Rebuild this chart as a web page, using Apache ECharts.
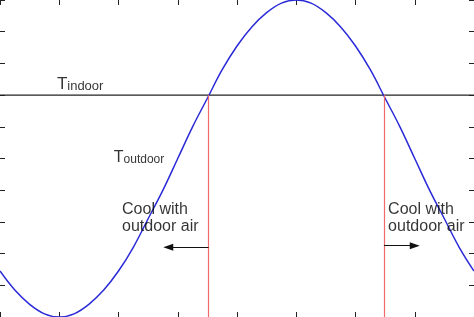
<!DOCTYPE html>
<html><head><meta charset="utf-8">
<script src="https://cdn.jsdelivr.net/npm/echarts@6/dist/echarts.min.js"></script>
<style>html,body{margin:0;padding:0;background:#fff}#c{width:474px;height:317px}</style>
</head><body><div id="c"></div>
<script>
const curveX = [0,0.25,0.5,0.75,1,1.25,1.5,1.75,2,2.25,2.5,2.75,3,3.25,3.5,3.75,4,4.25,4.5,4.75,5,5.25,5.5,5.75,6,6.25,6.5,6.75,7,7.25,7.5,7.75,8];
const curveY = [-0.71,-0.83,-0.92,-0.98,-1,-0.98,-0.92,-0.83,-0.71,-0.56,-0.38,-0.20,0,0.20,0.38,0.56,0.71,0.83,0.92,0.98,1,0.98,0.92,0.83,0.71,0.56,0.38,0.20,0,-0.20,-0.38,-0.56,-0.71];
const indoorLevel = 0.4;
const crossingX = [3.52, 6.48];
const arrowLeft = [[3.52, -0.56], [2.84, -0.56]];
const arrowRight = [[6.48, -0.55], [7.0, -0.55]];
const labelIndoor = ['T', 'indoor'];
const labelOutdoor = ['T', 'outdoor'];
const labelCool = ['Cool with', 'outdoor air'];
const labelPosIndoor = [0.96, 0.415];
const labelPosOutdoor = [1.92, -0.045];
const labelPosCoolLeft = [2.06, -0.27];
const labelPosCoolRight = [6.55, -0.27];

const FONT = "'Liberation Sans', Arial, sans-serif";
const chart = echarts.init(document.getElementById('c'), null, {renderer: 'canvas'});

const tick = {show: true, inside: true, length: 5, lineStyle: {color: '#222', width: 1}};
const xAx = (pos) => ({type: 'value', position: pos, min: 0, max: 8, interval: 1,
  axisLine: {show: false, onZero: false}, axisTick: tick, axisLabel: {show: false}, splitLine: {show: false}});
const yAx = (pos) => ({type: 'value', position: pos, min: -1, max: 1, interval: 0.2,
  axisLine: {show: false, onZero: false}, axisTick: tick, axisLabel: {show: false}, splitLine: {show: false}});

const subRich = (tSize, sSize) => ({
  t: {fontSize: tSize, fontFamily: FONT, color: '#000', verticalAlign: 'bottom', lineHeight: 20},
  s: {fontSize: sSize, fontFamily: FONT, color: '#000', verticalAlign: 'bottom', lineHeight: 20}
});

const labelData = [
  {value: labelPosIndoor, label: {formatter: '{t|' + labelIndoor[0] + '}{s|' + labelIndoor[1] + '}',
    rich: subRich(17, 13), align: 'left', verticalAlign: 'bottom'}},
  {value: labelPosOutdoor, label: {formatter: '{t|' + labelOutdoor[0] + '}{s|' + labelOutdoor[1] + '}',
    rich: subRich(16, 12), align: 'left', verticalAlign: 'bottom'}},
  {value: labelPosCoolLeft, label: {formatter: labelCool.join('\n'), fontSize: 16, lineHeight: 17,
    fontFamily: FONT, color: '#000', align: 'left', verticalAlign: 'top'}},
  {value: labelPosCoolRight, label: {formatter: labelCool.join('\n'), fontSize: 16, lineHeight: 17,
    fontFamily: FONT, color: '#000', align: 'left', verticalAlign: 'top'}}
];

chart.setOption({
  animation: false,
  backgroundColor: '#fff',
  grid: {left: 0, right: 0, top: 0, bottom: 0, containLabel: false},
  xAxis: [xAx('bottom'), xAx('top')],
  yAxis: [yAx('left'), yAx('right')],
  series: [
    {type: 'line', name: 'indoor', data: [[0, indoorLevel], [8, indoorLevel]], symbol: 'none',
      lineStyle: {color: '#222', width: 1.3}, silent: true, z: 2},
    {type: 'line', name: 'red', data: [], symbol: 'none', silent: true,
      markLine: {silent: true, symbol: ['none', 'none'], label: {show: false},
        lineStyle: {color: '#f06a6a', width: 1.2, type: 'solid'},
        data: crossingX.map(x => [{coord: [x, indoorLevel]}, {coord: [x, -1]}])}},
    {type: 'line', name: 'arrows', data: [], symbol: 'none', silent: true,
      markLine: {silent: true, symbol: ['none', 'triangle'], symbolSize: [7, 10], label: {show: false},
        lineStyle: {color: '#111', width: 1, type: 'solid'},
        itemStyle: {color: '#111'},
        data: [[{coord: arrowLeft[0]}, {coord: arrowLeft[1]}], [{coord: arrowRight[0]}, {coord: arrowRight[1]}]]}},
    {type: 'line', name: 'outdoor', data: curveX.map((x, i) => [x, curveY[i]]), smooth: 0.4,
      symbol: 'none', lineStyle: {color: '#2a2ad8', width: 1.5}, silent: true, z: 3},
    {type: 'scatter', name: 'labels', data: labelData, symbolSize: 0, silent: true, z: 5,
      label: {show: true, position: [0, 0], color: '#000'}}
  ]
});
</script></body></html>
